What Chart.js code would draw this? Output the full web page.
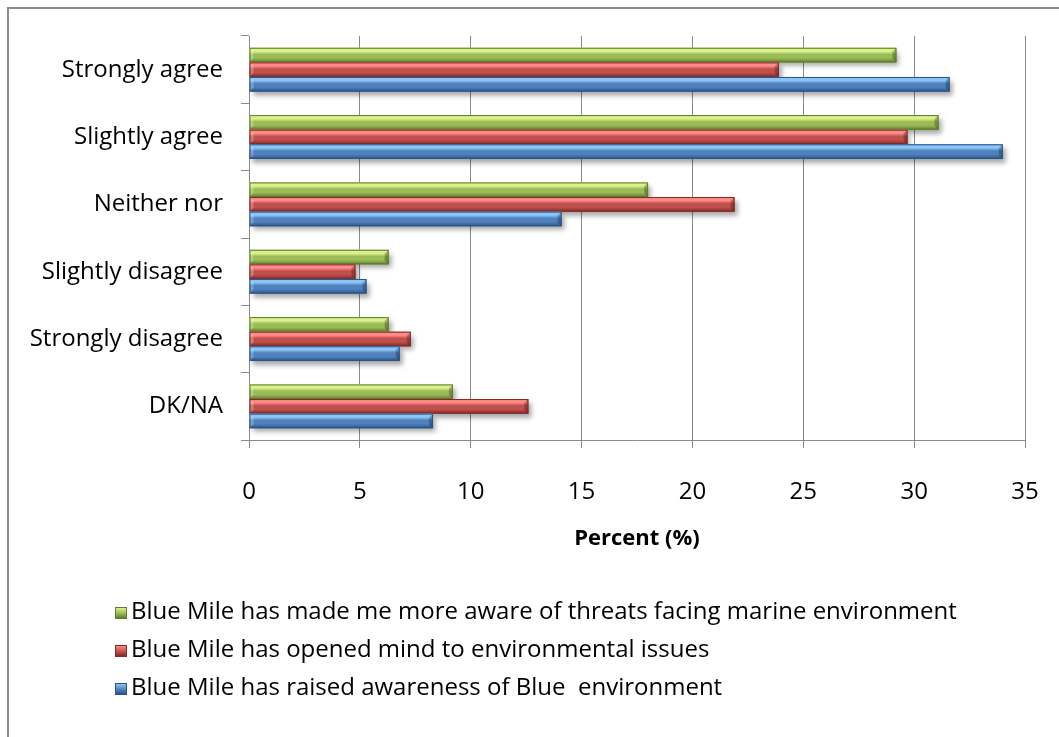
<!DOCTYPE html>
<html>
<head>
<meta charset="utf-8">
<script src="https://cdn.jsdelivr.net/npm/chart.js@4.4.1/dist/chart.umd.min.js"></script>
<style>
  body { margin: 0; background: #fff; }
  #wrap { position: relative; width: 1059px; height: 737px; }
  #frame { position: absolute; left: 7px; top: 7px; right: 0; bottom: 0;
           border-top: 2px solid #8c8c8c; border-left: 2px solid #8c8c8c; pointer-events: none; }
  #legend { position: absolute; left: 115px; top: 591px; font-family: 'Open Sans', sans-serif;
            font-size: 24px; color: #000; }
  #legend div { height: 38px; line-height: 38px; white-space: pre; }
  #legend span.box { display: inline-block; width: 12px; height: 12px; margin-right: 4px;
                     vertical-align: 0px; }
</style>
</head>
<body>
<div id="wrap">
  <canvas id="chart" width="1059" height="737"></canvas>
  <div id="frame"></div>
  <div id="legend"></div>
</div>
<script>
// survey answers, top to bottom
var categories = ['Strongly agree', 'Slightly agree', 'Neither nor', 'Slightly disagree', 'Strongly disagree', 'DK/NA'];

var seriesNames = [
  'Blue Mile has made me more aware of threats facing marine environment',
  'Blue Mile has opened mind to environmental issues',
  'Blue Mile has raised awareness of Blue  environment'
];

// percent per answer
var moreAware = [29.2, 31.1, 18.0, 6.3, 6.3, 9.2];
var openedMind = [23.9, 29.7, 21.9, 4.8, 7.3, 12.6];
var raisedAwareness = [31.6, 34.0, 14.1, 5.3, 6.8, 8.3];

var xTicks = [0, 5, 10, 15, 20, 25, 30, 35];

// base, light, dark per series
var palette = [
  ['#9bbb59', '#d9f28a', '#5f7d2a'],
  ['#c0504d', '#ff8a86', '#7f2b28'],
  ['#4f81bd', '#8cc4f5', '#2b5486']
];

var font = "'Open Sans', sans-serif";

// shadow under bars + bevel shading on top of them
var bevel = {
  id: 'bevel',
  beforeDatasetsDraw: function(chart) {
    var ctx = chart.ctx;
    ctx.save();
    ctx.shadowColor = 'rgba(0,0,0,0.35)';
    ctx.shadowBlur = 5;
    ctx.shadowOffsetX = 3;
    ctx.shadowOffsetY = 4;
  },
  afterDatasetsDraw: function(chart) {
    var ctx = chart.ctx;
    ctx.restore();
    chart.data.datasets.forEach(function(ds, i) {
      var meta = chart.getDatasetMeta(i);
      var col = palette[i];
      meta.data.forEach(function(bar) {
        var top = bar.y - bar.height / 2;
        var h = bar.height;
        var left = Math.min(bar.x, bar.base);
        var right = Math.max(bar.x, bar.base);
        var g = ctx.createLinearGradient(0, top, 0, top + h);
        g.addColorStop(0, col[1]);
        g.addColorStop(0.25, col[1]);
        g.addColorStop(0.45, col[0]);
        g.addColorStop(0.7, col[0]);
        g.addColorStop(1, col[2]);
        ctx.save();
        ctx.fillStyle = g;
        ctx.fillRect(left, top, right - left, h);
        // angled end cap
        var e = Math.min(4, (right - left) / 2);
        ctx.fillStyle = 'rgba(0,0,0,0.25)';
        ctx.beginPath();
        ctx.moveTo(right, top);
        ctx.lineTo(right - e, top + e);
        ctx.lineTo(right - e, top + h - e);
        ctx.lineTo(right, top + h);
        ctx.closePath();
        ctx.fill();
        ctx.fillStyle = 'rgba(255,255,255,0.25)';
        ctx.beginPath();
        ctx.moveTo(left, top);
        ctx.lineTo(left + e, top + e);
        ctx.lineTo(left + e, top + h - e);
        ctx.lineTo(left, top + h);
        ctx.closePath();
        ctx.fill();
        ctx.strokeStyle = col[2];
        ctx.lineWidth = 1;
        ctx.strokeRect(left + 0.5, top + 0.5, right - left - 1, h - 1);
        ctx.restore();
      });
    });
  }
};

var chart = new Chart(document.getElementById('chart'), {
  type: 'bar',
  data: {
    labels: categories,
    datasets: [
      { label: seriesNames[0], data: moreAware, backgroundColor: palette[0][0] },
      { label: seriesNames[1], data: openedMind, backgroundColor: palette[1][0] },
      { label: seriesNames[2], data: raisedAwareness, backgroundColor: palette[2][0] }
    ]
  },
  options: {
    indexAxis: 'y',
    responsive: false,
    animation: false,
    barPercentage: 1,
    categoryPercentage: 0.65,
    layout: { padding: { left: 0, right: 34, top: 36, bottom: 185 } },
    plugins: { legend: { display: false }, tooltip: { enabled: false } },
    scales: {
      x: {
        min: 0,
        max: 35,
        afterBuildTicks: function(scale) {
          scale.ticks = xTicks.map(function(v) { return { value: v }; });
        },
        afterFit: function(scale) {
          scale.height = 112;
          scale.paddingLeft = 0;
          scale.paddingRight = 0;
        },
        grid: { color: '#8a8a8a', lineWidth: 1, tickLength: 8 },
        border: { color: '#8a8a8a', width: 1 },
        ticks: { color: '#000', padding: 30, maxRotation: 0, font: { family: font, size: 24 } },
        title: {
          display: true,
          text: 'Percent (%)',
          color: '#000',
          padding: { top: 4, bottom: 0 },
          font: { family: font, size: 22, weight: 'bold', lineHeight: 1.2 }
        }
      },
      y: {
        afterFit: function(scale) {
          scale.width = 249;
          scale.paddingTop = 0;
          scale.paddingBottom = 0;
        },
        grid: { drawOnChartArea: false, offset: true, tickLength: 8, color: '#8a8a8a' },
        border: { color: '#8a8a8a', width: 1 },
        ticks: { color: '#000', padding: 18, font: { family: font, size: 24 } }
      }
    }
  },
  plugins: [bevel]
});

// legend list under the chart
var legend = document.getElementById('legend');
chart.data.datasets.forEach(function(ds, i) {
  var row = document.createElement('div');
  var box = document.createElement('span');
  box.className = 'box';
  box.style.background = 'linear-gradient(' + palette[i][1] + ', ' + palette[i][0] + ' 55%, ' + palette[i][2] + ')';
  box.style.border = '1px solid ' + palette[i][2];
  box.style.boxSizing = 'border-box';
  row.appendChild(box);
  row.appendChild(document.createTextNode(ds.label));
  legend.appendChild(row);
});
</script>
</body>
</html>
